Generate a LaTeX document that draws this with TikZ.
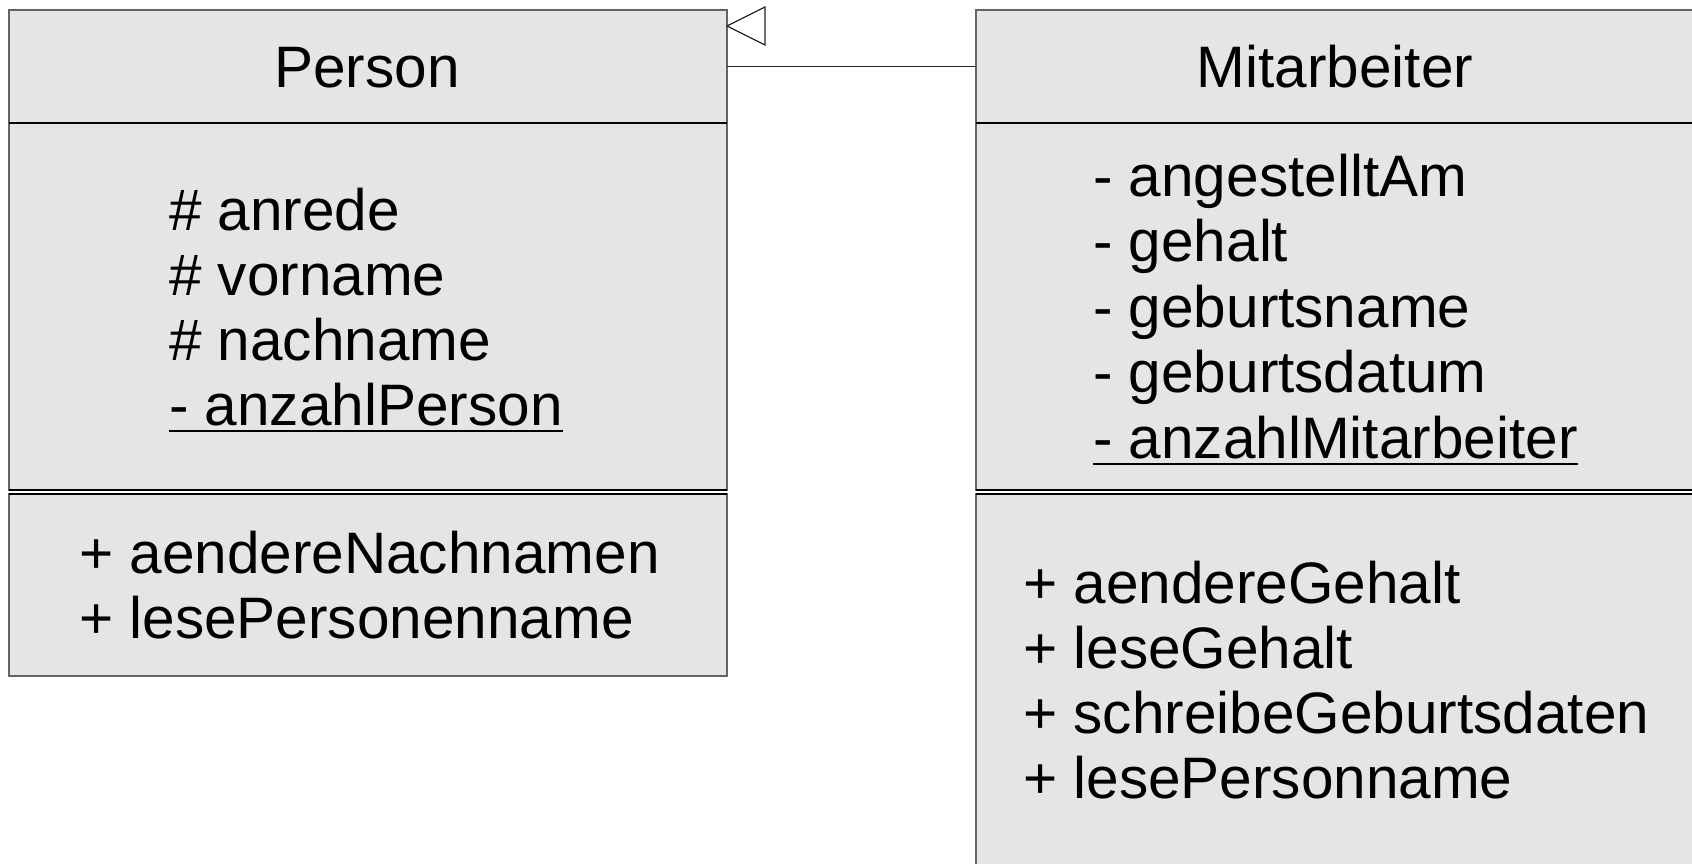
\documentclass[tikz,border=0pt]{standalone}
\usepackage{fontspec}
\setmainfont{Liberation Sans}
\begin{document}
\begin{tikzpicture}[x=1pt,y=-1pt,
  compartment/.style={draw=boxborder,fill=boxfill,line width=1.6pt,
    anchor=north west,inner sep=0pt,outer sep=0pt},
  divider/.style={draw=black,line width=1.4pt},
  member/.style={anchor=base west,inner sep=0pt,font=\fontsize{58.5}{65}\selectfont},
  title/.style={anchor=base,inner sep=0pt,font=\fontsize{58.5}{65}\selectfont},
  uline/.style={draw=black,line width=2.6pt},
  inherit/.style={draw=black!85,line width=1.3pt}]
\definecolor{boxfill}{RGB}{229,229,229}
\definecolor{boxborder}{RGB}{100,100,100}
\useasboundingbox (0,0) rectangle (1692,864);

% class Person
\node[compartment,minimum width=718pt,minimum height=113pt] (personHead) at (9,10) {};
\node[compartment,minimum width=718pt,minimum height=367pt] (personAttr) at (9,123) {};
\node[compartment,minimum width=718pt,minimum height=182pt] (personOps) at (9,494) {};
\draw[divider] (personHead.south west) -- (personHead.south east);
\draw[divider] (personAttr.south west) -- (personAttr.south east);
\draw[divider] (personOps.north west) -- (personOps.north east);

% class Mitarbeiter
\node[compartment,minimum width=740pt,minimum height=113pt] (mitHead) at (976,10) {};
\node[compartment,minimum width=740pt,minimum height=367pt] (mitAttr) at (976,123) {};
\node[compartment,minimum width=740pt,minimum height=400pt] (mitOps) at (976,494) {};
\draw[divider] (mitHead.south west) -- (mitHead.south east);
\draw[divider] (mitAttr.south west) -- (mitAttr.south east);
\draw[divider] (mitOps.north west) -- (mitOps.north east);

% class names
\node[title] (personName) at (367,88) {Person};
\node[title] (mitName) at (1335,88) {Mitarbeiter};

% Person attributes and operations
\node[member] (pa1) at (169,230) {\# anrede};
\node[member] (pa2) at (169,295) {\# vorname};
\node[member] (pa3) at (169,360) {\# nachname};
\node[member] (pa4) at (169,425) {- anzahlPerson};
\draw[uline] ([yshift=-6pt]pa4.base west) -- ([yshift=-6pt]pa4.base east);
\node[member] (po1) at (79,573) {+ aendereNachnamen};
\node[member] (po2) at (79,638) {+ lesePersonenname};

% Mitarbeiter attributes and operations
\node[member] (ma1) at (1093,196) {- angestelltAm};
\node[member] (ma2) at (1093,261) {- gehalt};
\node[member] (ma3) at (1093,327) {- geburtsname};
\node[member] (ma4) at (1093,392) {- geburtsdatum};
\node[member] (ma5) at (1093,458) {- anzahlMitarbeiter};
\draw[uline] ([yshift=-6pt]ma5.base west) -- ([yshift=-6pt]ma5.base east);
\node[member] (mo1) at (1023,603) {+ aendereGehalt};
\node[member] (mo2) at (1023,668) {+ leseGehalt};
\node[member] (mo3) at (1023,733) {+ schreibeGeburtsdaten};
\node[member] (mo4) at (1023,798) {+ lesePersonname};

% generalisation: Mitarbeiter inherits from Person
\draw[inherit] (mitHead.west) -- (personHead.east);
\coordinate (tip) at ([yshift=-16pt]personHead.north east);
\draw[inherit,fill=white] (tip) -- ++(38,-19) -- ++(0,38) -- cycle;
\end{tikzpicture}
\end{document}
